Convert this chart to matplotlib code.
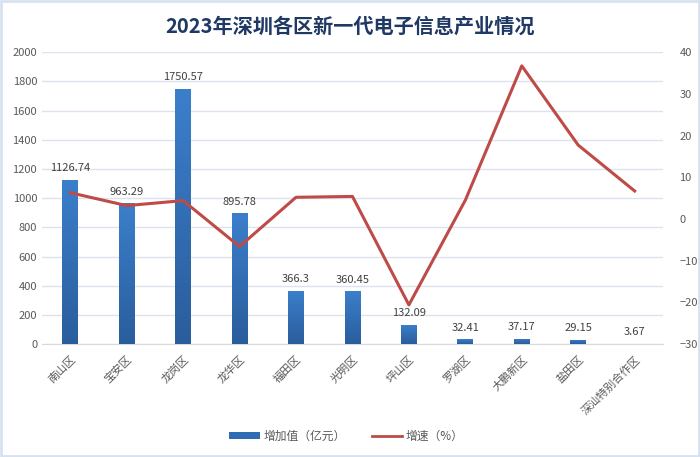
import matplotlib
matplotlib.use('Agg')
import matplotlib.pyplot as plt
import matplotlib.patches as mpatches
from matplotlib.lines import Line2D
from matplotlib.colors import LinearSegmentedColormap
import numpy as np

plt.rcParams['font.family'] = ['Noto Sans CJK SC', 'DejaVu Sans']

# 数据
districts = ['南山区', '宝安区', '龙岗区', '龙华区', '福田区', '光明区',
             '坪山区', '罗湖区', '大鹏新区', '盐田区', '深汕特别合作区']
added_value = [1126.74, 963.29, 1750.57, 895.78, 366.3, 360.45,
               132.09, 32.41, 37.17, 29.15, 3.67]
growth = [6.3, 3.2, 4.4, -6.6, 5.2, 5.4, -20.6, 4.5, 36.7, 17.7, 6.7]

bar_color = '#2E6DB4'
line_color = '#BE4B48'
text_color = '#595959'

fig = plt.figure(figsize=(7, 4.57), dpi=100)
ax = fig.add_axes([0.06, 0.247, 0.887, 0.639])
ax2 = ax.twinx()

x = list(range(len(districts)))
bars = ax.bar(x, added_value, width=0.28, color=bar_color, zorder=3)

# 柱子渐变
cmap = LinearSegmentedColormap.from_list('blu', ['#2A5D9C', '#3B7FCB'])
grad = np.linspace(0, 1, 256).reshape(-1, 1)
for b in bars:
    x0, y0 = b.get_x(), b.get_y()
    w, h = b.get_width(), b.get_height()
    im = ax.imshow(grad, cmap=cmap, aspect='auto', origin='lower',
                   extent=(x0, x0 + w, y0, y0 + h), zorder=3)
    im.set_clip_path(b)
    b.set_facecolor('none')

for xi, v in zip(x, added_value):
    ax.text(xi, v + 45, f'{v:g}', ha='center', va='bottom',
            fontsize=8, color='#404040', zorder=5)

ax2.plot(x, growth, color=line_color, linewidth=2.2, zorder=4)

ax.set_xlim(-0.5, len(districts) - 0.5)
ax.set_ylim(0, 2000)
ax.set_yticks(range(0, 2001, 200))
ax2.set_ylim(-30, 40)
ax2.set_yticks(range(-30, 41, 10))

ax.grid(axis='y', color='#DCE3EE', linewidth=1, zorder=0)
ax.set_xticks(x)
ax.set_xticklabels(districts, rotation=45, ha='right', rotation_mode='anchor',
                   fontsize=8, color=text_color)
ax.tick_params(axis='both', length=0, labelsize=8, labelcolor=text_color)
ax.tick_params(axis='x', pad=7)
ax2.tick_params(axis='y', length=0, labelsize=8, labelcolor=text_color, pad=12)

for a in (ax, ax2):
    for s in a.spines.values():
        s.set_visible(False)
ax.spines['bottom'].set_visible(True)
ax.spines['bottom'].set_color('#D9D9D9')

fig.text(0.5, 0.943, '2023年深圳各区新一代电子信息产业情况', ha='center', va='center',
         fontsize=14.5, fontweight='bold', color='#1F3864')

handles = [mpatches.Patch(facecolor=bar_color, label='增加值（亿元）'),
           Line2D([0], [0], color=line_color, linewidth=2, label='增速（%）')]
fig.legend(handles=handles, loc='center', bbox_to_anchor=(0.495, 0.045), ncol=2,
           frameon=False, fontsize=8.5, labelcolor=text_color,
           handlelength=2.6, handleheight=0.5, handletextpad=0.3,
           columnspacing=2.2)

fig.patches.append(mpatches.Rectangle((0.002, 0.003), 0.996, 0.994,
                                      transform=fig.transFigure, fill=False,
                                      edgecolor='#D6E2F0', linewidth=2))

fig.savefig('out.png', dpi=100, facecolor='white')
